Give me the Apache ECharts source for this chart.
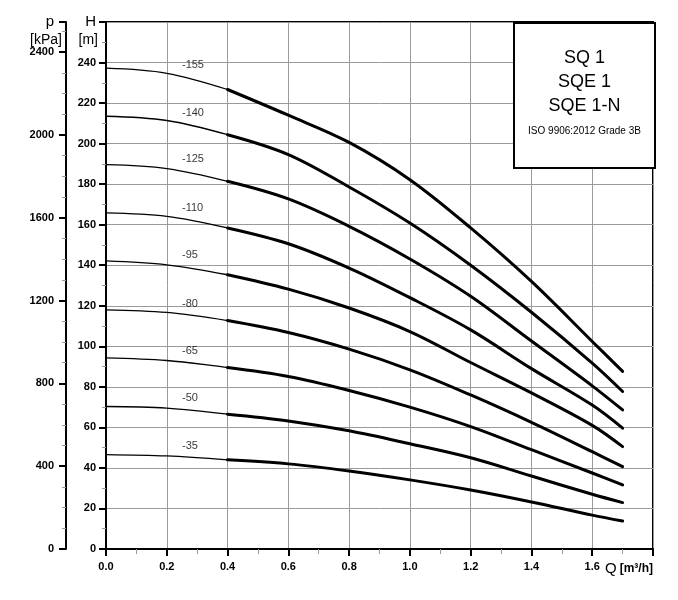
<!DOCTYPE html>
<html>
<head>
<meta charset="utf-8">
<script src="https://cdn.jsdelivr.net/npm/echarts@6/dist/echarts.min.js"></script>
<style>
  html, body { margin: 0; padding: 0; background: #fff; }
  #chart { width: 678px; height: 600px; }
</style>
</head>
<body>
<div id="chart"></div>
<script>
// flow points (m3/h) where the curves were read
const qValues = [0, 0.2, 0.4, 0.6, 0.8, 1.0, 1.2, 1.4, 1.6, 1.7];

const curveNames = ['-155', '-140', '-125', '-110', '-95', '-80', '-65', '-50', '-35'];

// head in m per pump model
const h155 = [237.2, 234.7, 226.7, 214.0, 200.6, 182.2, 158.4, 132.0, 102.4, 87.6];
const h140 = [213.5, 211.4, 204.4, 194.6, 178.6, 160.8, 140.0, 116.8, 91.7, 77.7];
const h125 = [189.6, 187.7, 181.4, 172.7, 159.2, 143.1, 124.7, 102.6, 80.5, 68.6];
const h110 = [165.8, 164.1, 158.4, 150.6, 138.6, 124.0, 108.1, 89.0, 71.0, 59.6];
const h95 = [142.1, 140.2, 135.3, 128.2, 118.9, 107.3, 92.0, 77.0, 61.0, 50.5];
const h80 = [118.0, 116.7, 112.7, 106.8, 98.6, 88.4, 76.0, 62.5, 48.0, 40.6];
const h65 = [94.3, 93.0, 89.5, 85.1, 78.2, 70.0, 60.4, 49.0, 37.5, 31.6];
const h50 = [70.3, 69.5, 66.5, 63.2, 58.3, 51.9, 45.0, 36.0, 27.0, 22.9];
const h35 = [46.6, 45.9, 44.0, 42.0, 38.5, 34.1, 29.1, 23.2, 16.7, 13.8];

const curves = [h155, h140, h125, h110, h95, h80, h65, h50, h35];

// where the model names sit
const labelQ = 0.25;
const labelH = [238.7, 215.2, 192.4, 168.2, 145.2, 121.0, 97.8, 74.4, 50.9];

// axis ticks
const hTicks = { min: 0, max: 260, step: 20 };
const pTicks = { min: 0, max: 2546, step: 400 };
const qTicks = { min: 0, max: 1.8, step: 0.2 };

const font = 'Liberation Sans, Arial, sans-serif';
const gridColor = '#9a9a9a';

var myChart = echarts.init(document.getElementById('chart'));

var series = [];
curves.forEach((h, i) => {
  var pts = qValues.map((q, k) => [q, h[k]]);
  // thin start of the curve
  series.push({
    name: curveNames[i] + ' a',
    type: 'line',
    yAxisIndex: 0,
    data: pts.slice(0, 3),
    symbol: 'none',
    smooth: 0.35,
    lineStyle: { color: '#000', width: 1.3 },
    silent: true,
    z: 5
  });
  // thick rest
  series.push({
    name: curveNames[i],
    type: 'line',
    yAxisIndex: 0,
    data: pts.slice(2),
    symbol: 'none',
    smooth: 0.35,
    lineStyle: { color: '#000', width: 3, cap: 'round' },
    silent: true,
    z: 5
  });
});

series.push({
  name: 'labels',
  type: 'scatter',
  yAxisIndex: 0,
  symbolSize: 0,
  data: curveNames.map((n, i) => ({ name: n, value: [labelQ, labelH[i]] })),
  label: {
    show: true,
    position: 'inside',
    align: 'left',
    verticalAlign: 'middle',
    formatter: '{b}',
    color: '#000',
    fontSize: 11,
    fontFamily: font
  },
  silent: true,
  z: 6
});

const tickLabel = { color: '#000', fontSize: 11, fontWeight: 'bold', fontFamily: font };
const bigText = { fontSize: 15, fontWeight: 'normal', color: '#000', fontFamily: font };

let option = {
  animation: false,
  backgroundColor: '#fff',
  textStyle: { fontFamily: font },
  grid: {
    left: 106,
    right: 25,
    top: 22,
    bottom: 51,
    show: true,
    borderColor: '#000',
    borderWidth: 2
  },
  xAxis: {
    type: 'value',
    min: qTicks.min,
    max: qTicks.max,
    interval: qTicks.step,
    axisLine: { lineStyle: { color: '#000', width: 2 } },
    axisTick: { length: 7, lineStyle: { color: '#000', width: 2 } },
    minorTick: { show: true, splitNumber: 2, length: 5, lineStyle: { color: '#999', width: 1 } },
    splitLine: { show: true, lineStyle: { color: gridColor, width: 1 } },
    axisLabel: {
      ...tickLabel,
      margin: 12,
      alignMaxLabel: 'right',
      formatter: (value) => {
        if (value >= 1.79) return '{q|Q} {u|[m³/h]}';
        return value.toFixed(1);
      },
      rich: {
        q: bigText,
        u: { fontSize: 12, fontWeight: 'bold', color: '#000', fontFamily: font }
      }
    }
  },
  yAxis: [
    {
      type: 'value',
      position: 'left',
      min: hTicks.min,
      max: hTicks.max,
      interval: hTicks.step,
      axisLine: { show: true, lineStyle: { color: '#000', width: 2 } },
      axisTick: { show: true, length: 7, lineStyle: { color: '#000', width: 2 } },
      minorTick: { show: true, splitNumber: 2, length: 4, lineStyle: { color: '#999', width: 1 } },
      splitLine: { show: true, lineStyle: { color: gridColor, width: 1 } },
      axisLabel: {
        ...tickLabel,
        margin: 10,
        formatter: (value) => value === hTicks.max ? '{h|H}' : String(value),
        rich: { h: bigText }
      }
    },
    {
      type: 'value',
      position: 'left',
      offset: 40,
      min: pTicks.min,
      max: pTicks.max,
      interval: pTicks.step,
      axisLine: { show: true, lineStyle: { color: '#000', width: 2 } },
      axisTick: { show: true, length: 7, lineStyle: { color: '#000', width: 2 } },
      minorTick: { show: true, splitNumber: 4, length: 4, lineStyle: { color: '#999', width: 1 } },
      splitLine: { show: false },
      axisLabel: {
        ...tickLabel,
        margin: 12,
        formatter: (value) => {
          if (value % pTicks.step === 0) return String(value);
          return value >= pTicks.max ? '{p|p}' : '';
        },
        rich: { p: bigText }
      }
    }
  ],
  graphic: [
    { type: 'text', right: 580, top: 33, style: { text: '[m]', fontSize: 14, fontFamily: font, fill: '#000' } },
    { type: 'text', right: 616, top: 33, style: { text: '[kPa]', fontSize: 14, fontFamily: font, fill: '#000' } },
    {
      type: 'group',
      left: 513,
      top: 22,
      children: [
        { type: 'rect', shape: { x: 0, y: 0, width: 141, height: 145 }, style: { fill: '#fff', stroke: '#000', lineWidth: 2 }, z: 10 },
        { type: 'text', x: 70.5, y: 35, style: { text: 'SQ 1', fontSize: 18, fontFamily: font, fill: '#000', align: 'center', verticalAlign: 'middle' }, z: 11 },
        { type: 'text', x: 70.5, y: 59, style: { text: 'SQE 1', fontSize: 18, fontFamily: font, fill: '#000', align: 'center', verticalAlign: 'middle' }, z: 11 },
        { type: 'text', x: 70.5, y: 83, style: { text: 'SQE 1-N', fontSize: 18, fontFamily: font, fill: '#000', align: 'center', verticalAlign: 'middle' }, z: 11 },
        { type: 'text', x: 70.5, y: 108, style: { text: 'ISO 9906:2012 Grade 3B', fontSize: 10, fontFamily: font, fill: '#000', align: 'center', verticalAlign: 'middle' }, z: 11 }
      ]
    }
  ],
  series: series
};

myChart.setOption(option);
</script>
</body>
</html>
